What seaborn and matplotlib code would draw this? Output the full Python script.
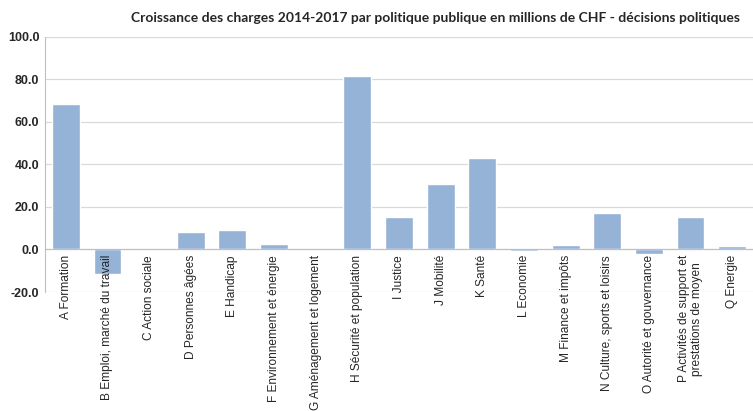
import numpy as np
import pandas as pd
import seaborn as sns
import matplotlib.pyplot as plt
from matplotlib.ticker import FixedLocator, FormatStrFormatter

categories = [
    "A Formation",
    "B Emploi, marché du travail",
    "C Action sociale",
    "D Personnes âgées",
    "E Handicap",
    "F Environnement et énergie",
    "G Aménagement et logement",
    "H Sécurité et population",
    "I Justice",
    "J Mobilité",
    "K Santé",
    "L Economie",
    "M Finance et impôts",
    "N Culture, sports et loisirs",
    "O Autorité et gouvernance",
    "P Activités de support et\nprestations de moyen",
    "Q Energie",
]
values = [68.3, -11.4, 0.0, 8.0, 9.2, 2.6, 0.4, 81.7, 15.4, 30.8, 42.8,
          -0.5, 2.3, 17.1, -2.0, 15.4, 1.5]
y_ticks = [-20, 0, 20, 40, 60, 80, 100]
title = "Croissance des charges 2014-2017 par politique publique en millions de CHF - décisions politiques"

df = pd.DataFrame({"categorie": categories, "valeur": values})

sns.set_style("white")
plt.rcParams['font.family'] = ['Liberation Sans', 'DejaVu Sans']

fig = plt.figure(figsize=(7.53, 4.11), dpi=100)
ax = fig.add_axes([0.0598, 0.2895, 0.9402, 0.6212])

sns.barplot(data=df, x="categorie", y="valeur", color="#95b3d7",
            saturation=1, width=0.67, ax=ax, zorder=3)

ax.set_ylim(-20, 100)
ax.set_xlim(-0.5, len(categories) - 0.5)
ax.yaxis.set_major_locator(FixedLocator(y_ticks))
ax.yaxis.set_major_formatter(FormatStrFormatter('%.1f'))
ax.grid(axis='y', color='#d9d9d9', linewidth=0.9, zorder=0)
ax.grid(axis='x', visible=False)

for s in ['top', 'right']:
    ax.spines[s].set_visible(False)
ax.spines['left'].set_color('#bfbfbf')
ax.spines['bottom'].set_color('#bfbfbf')
ax.spines['bottom'].set_position(('data', 0))
ax.spines['bottom'].set_zorder(4)
ax.xaxis.set_zorder(5)

ax.set_xlabel("")
ax.set_ylabel("")
ax.tick_params(axis='y', length=0, pad=4, labelsize=9)
for lab in ax.get_yticklabels():
    lab.set_fontweight('bold')

ax.set_xticks(np.arange(len(categories)))
ax.set_xticklabels(categories, rotation=90, fontsize=8.6, va='top',
                   ha='center', multialignment='center')
ax.tick_params(axis='x', which='major', length=0, pad=4)
ax.set_xticks(np.arange(len(categories) + 1) - 0.5, minor=True)
ax.tick_params(axis='x', which='minor', length=4, color='#bfbfbf', direction='out')

fig.text(0.983, 0.955, title, ha='right', va='center', fontsize=10,
         fontweight='bold', family=['Lato', 'DejaVu Sans'])

fig.savefig("out.png", dpi=100)
